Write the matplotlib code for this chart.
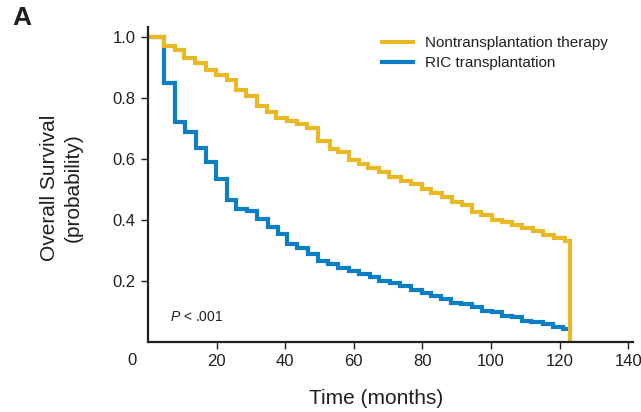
import matplotlib
matplotlib.use('Agg')
import matplotlib.pyplot as plt
from matplotlib import rcParams

rcParams['font.family'] = ['Liberation Sans', 'DejaVu Sans']
rcParams['mathtext.fontset'] = 'custom'
rcParams['mathtext.it'] = 'Liberation Sans:italic'
rcParams['mathtext.rm'] = 'Liberation Sans'

INK = '#231f20'
YELLOW = '#e9b924'
BLUE = '#0b7fc6'

# Kaplan-Meier step curves: time (months) where each level begins, and survival
non_tx_time = [0, 4.8, 7.9, 10.6, 13.7, 16.9, 19.7, 22.9, 25.6, 28.6, 31.7, 34.6,
               37.3, 40.4, 43.5, 46.4, 49.7, 53.1, 55.5, 58.6, 61.6, 64.2, 67.4,
               70.3, 73.7, 76.7, 79.8, 82.4, 85.6, 88.5, 91.5, 94.4, 97.1, 100.2,
               103.1, 106.0, 108.9, 112.3, 115.2, 118.4, 121.6, 123.0]
non_tx_surv = [1.0, 0.972, 0.957, 0.930, 0.914, 0.892, 0.875, 0.859, 0.826, 0.808,
               0.774, 0.755, 0.733, 0.725, 0.715, 0.701, 0.659, 0.632, 0.624, 0.597,
               0.584, 0.572, 0.558, 0.542, 0.528, 0.519, 0.501, 0.490, 0.474, 0.458,
               0.449, 0.427, 0.416, 0.400, 0.394, 0.384, 0.375, 0.364, 0.351, 0.340,
               0.332, 0.0]

ric_time = [0, 4.7, 8.0, 10.8, 13.9, 16.8, 19.7, 22.9, 25.6, 28.8, 31.7, 34.9,
            37.8, 40.6, 43.5, 46.7, 49.6, 52.6, 55.5, 58.7, 61.6, 64.7, 67.4,
            70.6, 73.5, 76.6, 79.8, 82.4, 85.3, 88.3, 91.2, 94.4, 97.3, 100.2,
            103.1, 106.0, 108.9, 111.8, 115.2, 118.1, 121.0, 122.0]
ric_surv = [1.0, 0.848, 0.722, 0.690, 0.637, 0.589, 0.533, 0.466, 0.435, 0.430,
            0.403, 0.376, 0.354, 0.323, 0.307, 0.288, 0.267, 0.255, 0.242, 0.233,
            0.222, 0.214, 0.201, 0.194, 0.184, 0.170, 0.162, 0.151, 0.140, 0.129,
            0.125, 0.116, 0.103, 0.097, 0.086, 0.081, 0.070, 0.067, 0.059, 0.050,
            0.044, 0.044]

x_ticks = [20, 40, 60, 80, 100, 120, 140]
y_ticks = [0.2, 0.4, 0.6, 0.8, 1.0]

fig = plt.figure(figsize=(6.41, 4.12), dpi=100)
ax = fig.add_axes([148 / 641, 70 / 412, 485 / 641, 315 / 412])

ax.step(ric_time, ric_surv, where='post', color=BLUE, lw=3.0,
        label='RIC transplantation', solid_joinstyle='miter')
ax.step(non_tx_time, non_tx_surv, where='post', color=YELLOW, lw=3.0,
        label='Nontransplantation therapy', solid_joinstyle='miter')

ax.set_xlim(0, 141.4)
ax.set_ylim(0, 1.033)
ax.set_xticks(x_ticks)
ax.set_yticks(y_ticks)
ax.set_yticklabels([f'{v:.1f}' for v in y_ticks])
ax.tick_params(axis='both', direction='out', length=5, width=1.0, colors=INK,
               labelsize=12, pad=4)
for side in ('top', 'right'):
    ax.spines[side].set_visible(False)
for side in ('left', 'bottom'):
    ax.spines[side].set_linewidth(1.6)
    ax.spines[side].set_color(INK)

# shared origin label at the corner
ax.text(-4.7, -0.062, '0', ha='center', va='center', fontsize=12, color=INK,
        transform=ax.transData, clip_on=False)

ax.text(6.4, 0.082, r'$\mathit{P}$ < .001', fontsize=10, color=INK,
        ha='left', va='center')

fig.text(61 / 641, 1 - 188 / 412, 'Overall Survival\n(probability)', rotation=90,
         ha='center', va='center', fontsize=15, color=INK, linespacing=1.3)
fig.text(376 / 641, 14 / 412, 'Time (months)', ha='center', va='center',
         fontsize=15, color=INK)
fig.text(12 / 641, 1 - 18 / 412, 'A', ha='left', va='center', fontsize=19,
         fontweight='bold', color=INK)

handles, labels = ax.get_legend_handles_labels()
ax.legend(handles[::-1], labels[::-1], loc='upper left',
          bbox_to_anchor=(382 / 641, 1 - 36 / 412), bbox_transform=fig.transFigure,
          frameon=False, fontsize=11, handlelength=2.0, handletextpad=0.8,
          borderpad=0, borderaxespad=0, labelspacing=0.4, labelcolor=INK)

fig.savefig('out.png', dpi=100)
